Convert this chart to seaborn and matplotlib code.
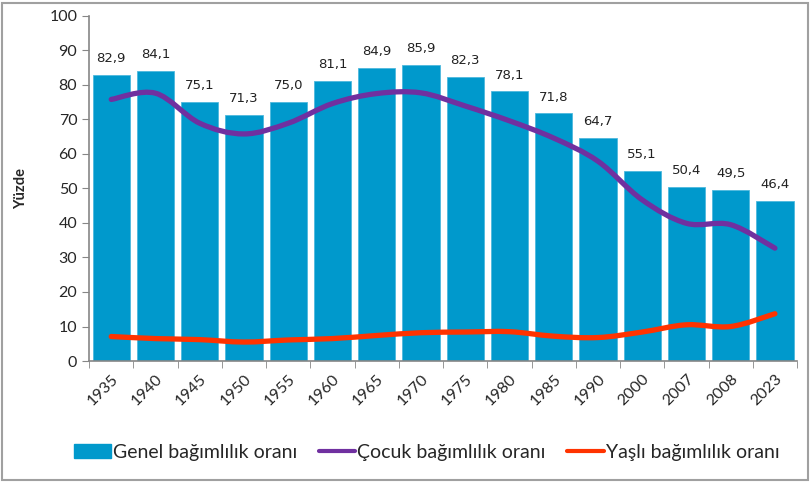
import matplotlib
matplotlib.use("Agg")
import matplotlib.pyplot as plt
import matplotlib.patches as mpatches
import matplotlib.lines as mlines
from matplotlib.path import Path
import seaborn as sns
import pandas as pd

years = ["1935", "1940", "1945", "1950", "1955", "1960", "1965", "1970",
         "1975", "1980", "1985", "1990", "2000", "2007", "2008", "2023"]
genel = [82.9, 84.1, 75.1, 71.3, 75.0, 81.1, 84.9, 85.9,
         82.3, 78.1, 71.8, 64.7, 55.1, 50.4, 49.5, 46.4]
cocuk = [75.8, 77.6, 68.9, 65.8, 68.9, 74.6, 77.5, 77.7,
         73.9, 69.6, 64.6, 57.9, 46.7, 39.9, 39.5, 32.7]
yasli = [7.1, 6.5, 6.2, 5.5, 6.1, 6.5, 7.4, 8.2,
         8.4, 8.5, 7.2, 6.8, 8.4, 10.5, 10.0, 13.7]

BLUE = "#0099CC"
PURPLE = "#7030A0"
RED = "#FF3300"

sns.set_style("white")
plt.rcParams["font.family"] = ["DejaVu Sans"]

df = pd.DataFrame({"yil": years, "genel": genel, "cocuk": cocuk, "yasli": yasli})
df["pos"] = range(len(years))


def smooth_line(ax, xs, ys, color):
    # excel style smoothed line: catmull-rom segments as bezier curves
    pts = list(zip(xs, ys))
    n = len(pts)
    verts = [pts[0]]
    codes = [Path.MOVETO]
    for i in range(n - 1):
        p0 = pts[max(i - 1, 0)]
        p1 = pts[i]
        p2 = pts[i + 1]
        p3 = pts[min(i + 2, n - 1)]
        c1 = (p1[0] + (p2[0] - p0[0]) / 6, p1[1] + (p2[1] - p0[1]) / 6)
        c2 = (p2[0] - (p3[0] - p1[0]) / 6, p2[1] - (p3[1] - p1[1]) / 6)
        verts += [c1, c2, p2]
        codes += [Path.CURVE4] * 3
    patch = mpatches.PathPatch(Path(verts, codes), facecolor="none", edgecolor=color,
                               linewidth=3.8, capstyle="round", joinstyle="round",
                               transform=ax.transData, zorder=3)
    ax.add_patch(patch)


fig = plt.figure(figsize=(8.1, 4.82), dpi=100)
ax = fig.add_axes([0.110, 0.251, 0.874, 0.716])

sns.barplot(data=df, x="pos", y="genel", color=BLUE, width=0.84,
            saturation=1, native_scale=True, edgecolor="#4DB8DD", linewidth=0.6, ax=ax)
smooth_line(ax, df["pos"], df["cocuk"], PURPLE)
smooth_line(ax, df["pos"], df["yasli"], RED)

for p, v in zip(df["pos"], genel):
    ax.annotate(f"{v:.1f}".replace(".", ","), (p, v), xytext=(0, 7),
                textcoords="offset points", ha="center", va="bottom",
                fontsize=9.5, color="#222222")

ax.set_xlim(-0.5, len(years) - 0.5)
ax.set_ylim(0, 100)
ax.set_yticks(range(0, 101, 10))
ax.set_xticks(df["pos"])
ax.set_xticklabels(years, rotation=45, ha="right", rotation_mode="anchor",
                   family="Lato", fontsize=11.5)
ax.set_xticks([p - 0.5 for p in range(len(years) + 1)], minor=True)
ax.tick_params(axis="x", which="major", length=0, pad=8)
ax.tick_params(axis="x", which="minor", length=5, color="#868686", direction="out", bottom=True)
ax.tick_params(axis="y", length=5, color="#868686", direction="out", left=True, labelsize=11.5)
for lab in ax.get_yticklabels():
    lab.set_family("Lato")

for s in ["top", "right"]:
    ax.spines[s].set_visible(False)
for s in ["left", "bottom"]:
    ax.spines[s].set_color("#868686")
    ax.spines[s].set_linewidth(1.2)

ax.set_xlabel("")
ax.set_ylabel("Yüzde", fontweight="bold", fontsize=10.5, family="Lato")
ax.yaxis.set_label_coords(-0.086, 0.5)

handles = [
    mpatches.Patch(color=BLUE, label="Genel bağımlılık oranı"),
    mlines.Line2D([], [], color=PURPLE, linewidth=3, label="Çocuk bağımlılık oranı"),
    mlines.Line2D([], [], color=RED, linewidth=3, label="Yaşlı bağımlılık oranı"),
]
fig.legend(handles=handles, loc="center", bbox_to_anchor=(0.527, 0.062), ncol=3,
           frameon=False, prop={"family": "Lato", "size": 14}, handlelength=1.9,
           handletextpad=0.1, columnspacing=1.1, handleheight=0.8)

fig.patches.append(mpatches.Rectangle((0.003, 0.004), 0.994, 0.99, transform=fig.transFigure,
                                      fill=False, edgecolor="#A0A0A0", linewidth=1.5))

fig.savefig("out.png", dpi=100)
